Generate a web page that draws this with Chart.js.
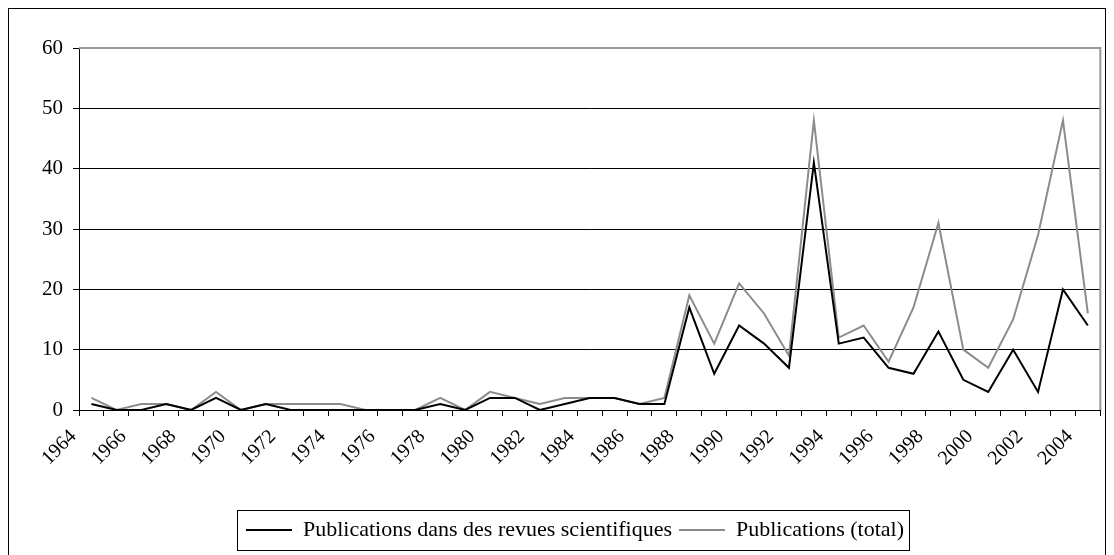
<!DOCTYPE html>
<html>
<head>
<meta charset="utf-8">
<script src="https://cdn.jsdelivr.net/npm/chart.js@4.4.1/dist/chart.umd.min.js"></script>
<style>
  html, body { margin: 0; padding: 0; background: #ffffff; }
  #wrap { position: relative; width: 1114px; height: 555px; }
</style>
</head>
<body>
<div id="wrap"><canvas id="c" width="1114" height="555"></canvas></div>
<script>
// ---- Data ----
const years = [1964,1965,1966,1967,1968,1969,1970,1971,1972,1973,1974,1975,1976,1977,1978,1979,1980,1981,1982,1983,1984,1985,1986,1987,1988,1989,1990,1991,1992,1993,1994,1995,1996,1997,1998,1999,2000,2001,2002,2003,2004];
const revues = [1,0,0,1,0,2,0,1,0,0,0,0,0,0,1,0,2,2,0,1,2,2,1,1,17,6,14,11,7,41,11,12,7,6,13,5,3,10,3,20,14];
const total  = [2,0,1,1,0,3,0,1,1,1,1,0,0,0,2,0,3,2,1,2,2,2,1,2,19,11,21,16,9,48,12,14,8,17,31,10,7,15,29,48,16];
const tickLabels = years.filter((y, i) => i % 2 === 0).map(String);
const yTicks = [0,10,20,30,40,50,60];
const seriesNames = ['Publications dans des revues scientifiques', 'Publications (total)'];

const FONT = 'Liberation Serif';

const framePlugin = {
  id: 'frame',
  beforeDraw(chart) {
    const ctx = chart.ctx;
    ctx.save();
    ctx.fillStyle = '#ffffff';
    ctx.fillRect(0, 0, chart.width, chart.height);
    ctx.restore();
  },
  afterDatasetsDraw(chart) {
    const { ctx, chartArea: a } = chart;
    ctx.save();
    ctx.strokeStyle = '#999999';
    ctx.lineWidth = 2;
    ctx.beginPath();
    ctx.moveTo(a.left, a.top);
    ctx.lineTo(a.right, a.top);
    ctx.lineTo(a.right, a.bottom);
    ctx.stroke();
    ctx.restore();
  },
  afterDraw(chart) {
    const ctx = chart.ctx;
    ctx.save();
    ctx.strokeStyle = '#000000';
    ctx.lineWidth = 1;
    ctx.strokeRect(8.5, 8.5, chart.width - 17, chart.height + 20);
    const hb = chart.legend && chart.legend.legendHitBoxes;
    if (hb && hb.length) {
      const first = hb[0], last = hb[hb.length - 1];
      const left = Math.round(first.left) - 8.5;
      const right = Math.round(last.left + last.width) + 5.5;
      ctx.strokeRect(left, 510.5, right - left, 40);
    }
    ctx.restore();
  }
};

new Chart(document.getElementById('c'), {
  type: 'line',
  data: {
    labels: years.map(String),
    datasets: [
      {
        label: seriesNames[0],
        data: revues,
        borderColor: '#000000',
        backgroundColor: '#000000',
        borderWidth: 2,
        pointRadius: 0,
        pointStyle: 'line',
        tension: 0,
        borderJoinStyle: 'miter',
        fill: false
      },
      {
        label: seriesNames[1],
        data: total,
        borderColor: '#8c8c8c',
        backgroundColor: '#8c8c8c',
        borderWidth: 2,
        pointRadius: 0,
        pointStyle: 'line',
        tension: 0,
        borderJoinStyle: 'miter',
        fill: false
      }
    ]
  },
  options: {
    responsive: false,
    animation: false,
    devicePixelRatio: 1,
    layout: { padding: { left: 36, right: 0, top: 48, bottom: 4 } },
    plugins: {
      legend: {
        display: true,
        position: 'bottom',
        labels: {
          usePointStyle: true,
          pointStyleWidth: 46,
          boxHeight: 10,
          padding: 7,
          color: '#000000',
          font: { family: FONT, size: 22 }
        }
      },
      tooltip: { enabled: false }
    },
    scales: {
      x: {
        type: 'category',
        offset: true,
        grid: {
          offset: true,
          drawOnChartArea: false,
          drawTicks: true,
          tickLength: 6,
          color: '#000000'
        },
        border: { display: true, color: '#000000', width: 1 },
        ticks: {
          autoSkip: false,
          minRotation: 45,
          maxRotation: 45,
          labelOffset: -18,
          padding: 9,
          color: '#000000',
          font: { family: FONT, size: 20 },
          callback: function (value, index) {
            const lab = String(years[index]);
            return tickLabels.includes(lab) ? lab : '';
          }
        },
        afterFit: function (scale) { scale.height = 102; }
      },
      y: {
        min: 0,
        max: 60,
        afterBuildTicks: function (scale) { scale.ticks = yTicks.map(v => ({ value: v })); },
        grid: {
          color: '#000000',
          lineWidth: 1,
          drawTicks: true,
          tickLength: 6
        },
        border: { display: true, color: '#000000', width: 1 },
        ticks: {
          padding: 10,
          color: '#000000',
          font: { family: FONT, size: 21 }
        },
        afterFit: function (scale) { scale.width = 43; }
      },
      yRight: {
        position: 'right',
        display: true,
        min: 0,
        max: 60,
        grid: { display: false, drawOnChartArea: false, drawTicks: false },
        border: { display: false },
        ticks: { display: false },
        afterFit: function (scale) { scale.width = 13; }
      }
    }
  },
  plugins: [framePlugin]
});
</script>
</body>
</html>
